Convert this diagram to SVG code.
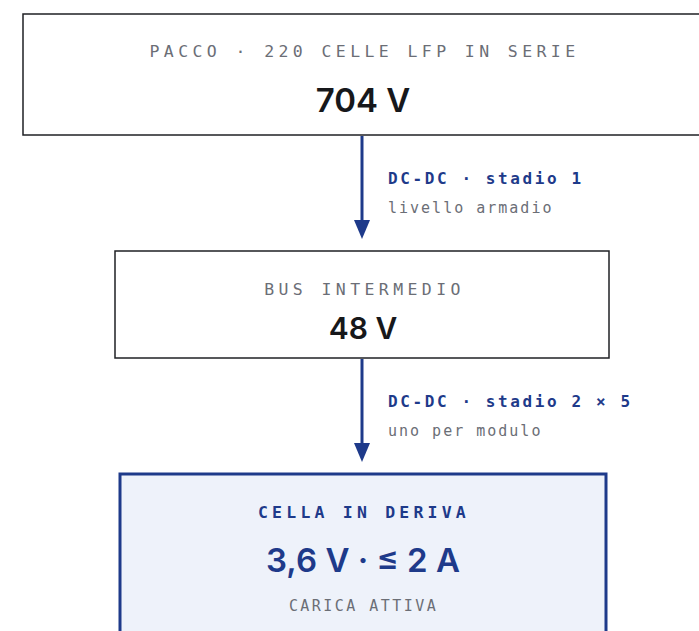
<svg xmlns="http://www.w3.org/2000/svg" width="699" height="631" viewBox="0 0 699 631">
<defs>
<style>
.box{fill:#ffffff;stroke:#1f2024;stroke-width:1.5}
.hl{fill:#eef2fa;stroke:#1e3a8a;stroke-width:3}
.cap{font-family:"DejaVu Sans Mono","Liberation Mono",monospace;font-size:16.5px;letter-spacing:4.4px;fill:#6b6e76;text-anchor:middle}
.capb{font-family:"DejaVu Sans Mono","Liberation Mono",monospace;font-size:16.5px;letter-spacing:4.2px;fill:#1e3a8a;font-weight:bold;text-anchor:middle}
.val{font-family:Inter,"Liberation Sans",sans-serif;font-weight:600;fill:#17181b;text-anchor:middle}
.valb{font-family:Inter,"Liberation Sans",sans-serif;font-weight:600;fill:#1e3a8a;text-anchor:middle}
.lbl{font-family:"DejaVu Sans Mono","Liberation Mono",monospace;font-size:16px;letter-spacing:2.6px;fill:#1e3a8a;font-weight:bold}
.sub{font-family:"DejaVu Sans Mono","Liberation Mono",monospace;font-size:15px;letter-spacing:2px;fill:#6b6e76}
.wire{stroke:#1e3a8a;stroke-width:3;fill:none}
</style>
</defs>
<g id="connectors">
<line class="wire" x1="362" y1="136" x2="362" y2="222"/>
<path d="M354 220 L370 220 L362 239 Z" fill="#1e3a8a"/>
<line class="wire" x1="362" y1="359" x2="362" y2="445"/>
<path d="M354 443 L370 443 L362 462 Z" fill="#1e3a8a"/>
<text class="lbl" x="388" y="184">DC-DC · stadio 1</text>
<text class="sub" x="388" y="213">livello armadio</text>
<text class="lbl" x="388" y="407">DC-DC · stadio 2 × 5</text>
<text class="sub" x="388" y="436">uno per modulo</text>
</g>
<g id="pacco">
<rect class="box" x="23" y="14" width="690" height="121"/>
<text class="cap" x="364.5" y="57">PACCO · 220 CELLE LFP IN SERIE</text>
<text class="val" x="363" y="112" font-size="33">704 V</text>
</g>
<g id="bus">
<rect class="box" x="115" y="251" width="494" height="107"/>
<text class="cap" x="364.5" y="295">BUS INTERMEDIO</text>
<text class="val" x="363" y="339" font-size="30">48 V</text>
</g>
<g id="cella">
<rect class="hl" x="120" y="474" width="486" height="170"/>
<text class="capb" x="364" y="518">CELLA IN DERIVA</text>
<text class="valb" x="363" y="572" font-size="33">3,6 V · ≤ 2 A</text>
<text class="cap" x="363.5" y="611" style="font-size:15px;letter-spacing:2.45px">CARICA ATTIVA</text>
</g>
</svg>
